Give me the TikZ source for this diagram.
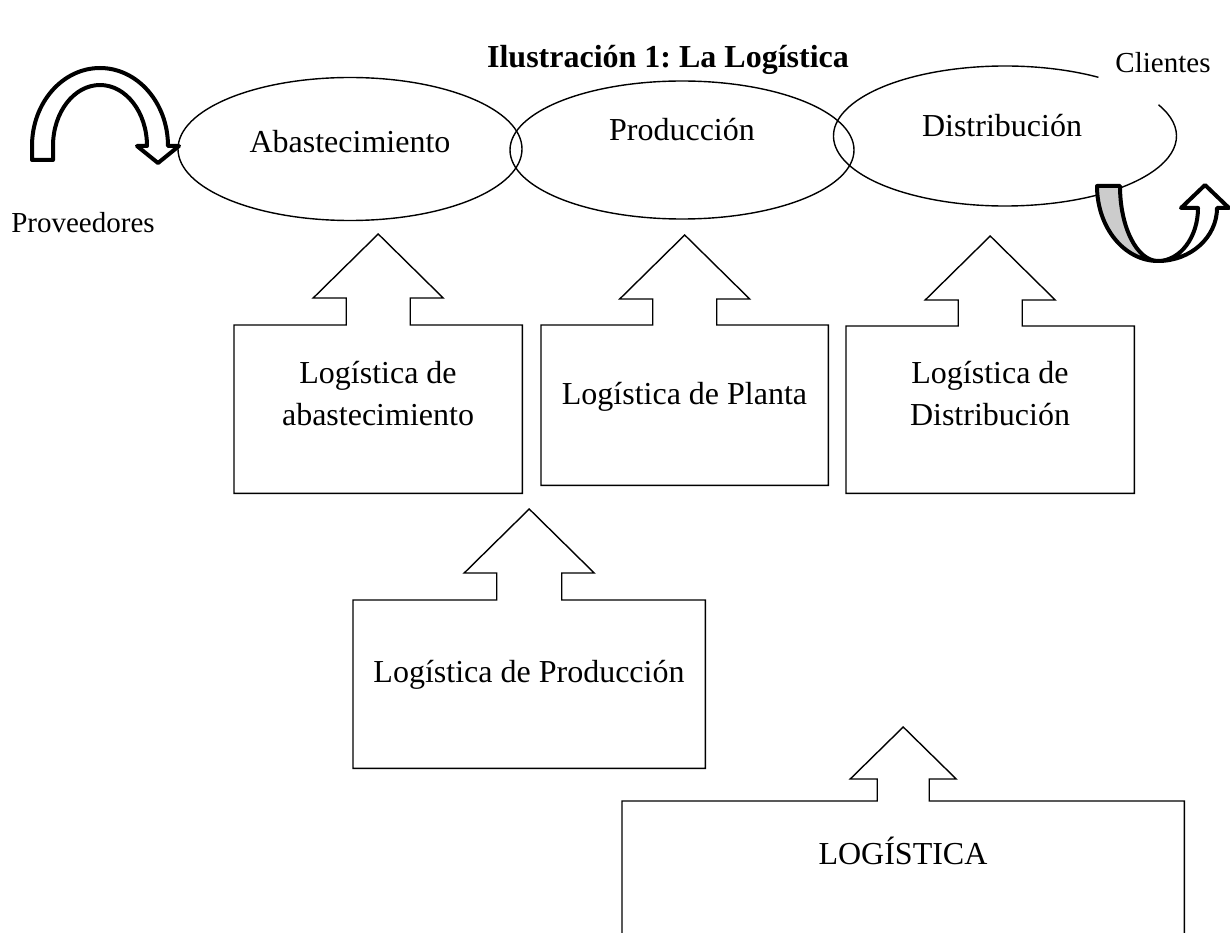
\documentclass[tikz,border=0pt]{standalone}
\usepackage{fontspec}
\setmainfont{Liberation Serif}
\usetikzlibrary{calc}
\frenchspacing

\tikzset{
  thinline/.style={line width=1.4pt, line join=miter},
  thickline/.style={line width=4pt, line join=round},
  frame/.style={inner sep=0pt, anchor=north west},
  maintext/.style={font=\fontsize{32}{42}\selectfont, inner sep=0pt, anchor=base},
  sidetext/.style={font=\fontsize{29}{34}\selectfont, inner sep=0pt, anchor=base},
  titletext/.style={font=\fontsize{32}{38}\selectfont\bfseries, inner sep=0pt, anchor=base}
}

% box #1 with an up-arrow on top: stem half-width #2, head half-width #3,
% stem height #4, head height #5, closing part #6
\newcommand\arrowcallout[6]{%
  \draw[thinline, fill=white] (#1.south west) -- (#1.north west)
    -- ($(#1.north)+(-#2,0)$) -- ++(0,#4)
    -- ($(#1.north)+(-#3,#4)$) -- ($(#1.north)+(0,#4+#5)$)
    -- ($(#1.north)+(#3,#4)$) -- ($(#1.north)+(#2,#4)$)
    -- ($(#1.north)+(#2,0)$) -- (#1.north east) -- (#1.south east) #6;}

\begin{document}
\begin{tikzpicture}[x=1pt, y=1pt]
\useasboundingbox (0,0) rectangle (1230,-933);

% title
\node[titletext] (title) at (668,-68) {Ilustración 1: La Logística};

% the three stages
\coordinate (abastC) at (350,-149);
\coordinate (prodC) at (682,-150);
\coordinate (distC) at (1005,-136);
\draw[thinline] (abastC) ellipse [x radius=172, y radius=71.5];
\draw[thinline] (prodC) ellipse [x radius=172, y radius=69];
\draw[thinline] ($(distC)+(57:171.5 and 70)$)
  arc[start angle=57, end angle=386.5, x radius=171.5, y radius=70];

\node[maintext] (abastT) at (350,-153) {Abastecimiento};
\node[maintext] (prodT) at (682,-141) {Producción};
\node[maintext] (distT) at (1002,-137) {Distribución};

\node[sidetext] (clientes) at (1163,-73) {Clientes};
\node[sidetext] (proveedores) at (83,-233) {Proveedores};

% curved arrow from suppliers
\draw[thickline, fill=white] (32,-160) -- (32,-146)
  arc[start angle=180, end angle=0, x radius=68, y radius=78]
  -- (179,-146) -- (158,-163) -- (137,-146) -- (147,-146)
  arc[start angle=0, end angle=180, x radius=47, y radius=61]
  -- (53,-160) -- cycle;

% U-turn arrow towards clients
\draw[thickline, fill=black!20] (1097,-186)
  arc[start angle=180, end angle=270, x radius=61, y radius=75]
  arc[start angle=270, end angle=180, x radius=38, y radius=75]
  -- cycle;
\draw[thickline, fill=white] (1158,-261)
  arc[start angle=270, end angle=360, x radius=59, y radius=53]
  -- (1229,-208) -- (1205,-185) -- (1181,-208) -- (1198,-208)
  arc[start angle=0, end angle=-90, x radius=40, y radius=53]
  -- cycle;

% logistics boxes
\node[frame, minimum width=288pt, minimum height=168pt] (boxA) at (234,-325) {};
\node[frame, minimum width=287pt, minimum height=160pt] (boxB) at (541,-325) {};
\node[frame, minimum width=288pt, minimum height=167pt] (boxC) at (846,-326) {};
\node[frame, minimum width=352pt, minimum height=168pt] (boxD) at (353,-600) {};
\node[frame, minimum width=562pt, minimum height=132pt] (boxE) at (622,-801) {};

\arrowcallout{boxA}{32}{65}{27}{64}{-- cycle}
\arrowcallout{boxB}{32}{65}{26}{64}{-- cycle}
\arrowcallout{boxC}{32}{65}{26}{64}{-- cycle}
\arrowcallout{boxD}{32.5}{65}{27}{64}{-- cycle}
\arrowcallout{boxE}{26}{53}{22}{52}{}

\node[maintext] (txtA) at (378,-383)
  {\begin{tabular}[t]{@{}c@{}}Logística de\\abastecimiento\end{tabular}};
\node[maintext] (txtB) at (684.5,-404) {Logística de Planta};
\node[maintext] (txtC) at (990,-383)
  {\begin{tabular}[t]{@{}c@{}}Logística de\\Distribución\end{tabular}};
\node[maintext] (txtD) at (529,-682) {Logística de Producción};
\node[maintext] (txtE) at (903,-864) {LOGÍSTICA};
\end{tikzpicture}
\end{document}
